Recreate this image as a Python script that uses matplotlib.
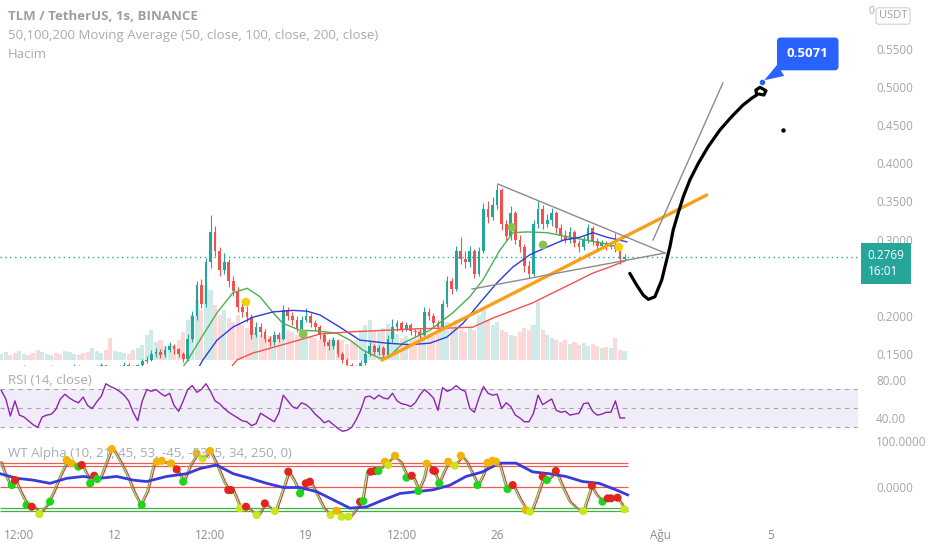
import numpy as np
import pandas as pd
import matplotlib
matplotlib.use("Agg")
import matplotlib.pyplot as plt
import matplotlib.transforms as mtransforms

plt.rcParams['font.family'] = ['Open Sans', 'DejaVu Sans']

# ---- data ----
# 4h candles, x in days since 12 Jul
bar_times = pd.date_range('2021-07-07 20:00', periods=138, freq='4h')
closes = [0.128, 0.131, 0.127, 0.125, 0.129, 0.132, 0.130, 0.126, 0.124, 0.127,
          0.130, 0.133, 0.129, 0.126, 0.128, 0.131, 0.134, 0.130, 0.127, 0.125,
          0.128, 0.132, 0.135, 0.131, 0.128, 0.130, 0.133, 0.136, 0.134, 0.131, 0.135,
          0.140, 0.142, 0.150, 0.152, 0.148, 0.155, 0.160, 0.156, 0.150, 0.143,
          0.170, 0.200, 0.240, 0.215, 0.270, 0.310, 0.285, 0.260, 0.270, 0.245,
          0.232, 0.212, 0.205, 0.198, 0.175, 0.185, 0.178, 0.170, 0.165, 0.175,
          0.170, 0.208, 0.200, 0.195, 0.183, 0.195, 0.200, 0.190, 0.185, 0.175,
          0.165, 0.160, 0.168, 0.150, 0.142, 0.135, 0.132, 0.130, 0.138, 0.150,
          0.160, 0.152, 0.158, 0.148, 0.170, 0.185, 0.190, 0.183, 0.188, 0.180,
          0.178, 0.175, 0.205, 0.200, 0.190, 0.185, 0.215, 0.245, 0.235, 0.285,
          0.275, 0.270, 0.285, 0.255, 0.285, 0.340, 0.330, 0.345, 0.365, 0.320,
          0.305, 0.335, 0.300, 0.290, 0.265, 0.255, 0.320, 0.340, 0.320, 0.325,
          0.335, 0.315, 0.305, 0.300, 0.310, 0.295, 0.290, 0.300, 0.315, 0.298,
          0.292, 0.295, 0.290, 0.293, 0.288, 0.275, 0.2769]
highs = [0.133, 0.134, 0.132, 0.129, 0.132, 0.135, 0.134, 0.131, 0.128, 0.130,
         0.133, 0.136, 0.134, 0.130, 0.131, 0.134, 0.137, 0.135, 0.131, 0.128,
         0.131, 0.135, 0.138, 0.136, 0.132, 0.133, 0.136, 0.139, 0.138, 0.135, 0.137,
         0.143, 0.147, 0.155, 0.158, 0.156, 0.160, 0.166, 0.163, 0.158, 0.152,
         0.176, 0.206, 0.246, 0.248, 0.276, 0.332, 0.318, 0.290, 0.282, 0.275,
         0.252, 0.238, 0.222, 0.213, 0.202, 0.192, 0.190, 0.182, 0.174, 0.180,
         0.179, 0.214, 0.212, 0.205, 0.199, 0.200, 0.210, 0.204, 0.194, 0.188,
         0.178, 0.170, 0.172, 0.170, 0.153, 0.145, 0.138, 0.135, 0.142, 0.155,
         0.165, 0.163, 0.162, 0.160, 0.175, 0.196, 0.195, 0.193, 0.192, 0.191,
         0.184, 0.182, 0.211, 0.210, 0.203, 0.194, 0.220, 0.252, 0.250, 0.292,
         0.303, 0.285, 0.292, 0.288, 0.290, 0.348, 0.350, 0.356, 0.373, 0.368,
         0.326, 0.344, 0.338, 0.306, 0.294, 0.272, 0.326, 0.350, 0.345, 0.334,
         0.342, 0.338, 0.320, 0.312, 0.316, 0.313, 0.300, 0.305, 0.320, 0.318,
         0.302, 0.299, 0.298, 0.297, 0.308, 0.291, 0.281]
lows = [0.125, 0.126, 0.125, 0.122, 0.123, 0.127, 0.128, 0.124, 0.121, 0.122,
        0.125, 0.128, 0.127, 0.123, 0.124, 0.126, 0.129, 0.128, 0.124, 0.122,
        0.123, 0.126, 0.130, 0.129, 0.126, 0.126, 0.128, 0.131, 0.131, 0.129, 0.129,
        0.133, 0.138, 0.140, 0.146, 0.144, 0.146, 0.152, 0.150, 0.146, 0.139,
        0.141, 0.166, 0.195, 0.210, 0.212, 0.262, 0.278, 0.252, 0.255, 0.238,
        0.226, 0.205, 0.198, 0.192, 0.170, 0.172, 0.172, 0.165, 0.160, 0.162,
        0.166, 0.168, 0.194, 0.188, 0.178, 0.180, 0.192, 0.185, 0.180, 0.170,
        0.160, 0.155, 0.156, 0.146, 0.138, 0.131, 0.128, 0.126, 0.128, 0.136,
        0.147, 0.148, 0.149, 0.144, 0.146, 0.166, 0.180, 0.178, 0.180, 0.175,
        0.172, 0.170, 0.173, 0.194, 0.185, 0.180, 0.183, 0.212, 0.228, 0.232,
        0.268, 0.262, 0.264, 0.250, 0.252, 0.282, 0.322, 0.325, 0.340, 0.312,
        0.298, 0.300, 0.294, 0.284, 0.258, 0.249, 0.252, 0.315, 0.314, 0.316,
        0.318, 0.308, 0.298, 0.295, 0.296, 0.290, 0.284, 0.286, 0.296, 0.293,
        0.287, 0.288, 0.286, 0.287, 0.284, 0.268, 0.272]
volumes = [6, 8, 5, 7, 9, 6, 5, 7, 10, 8, 6, 5, 7, 6, 9, 8, 6, 5, 7, 8,
           12, 9, 7, 10, 22, 9, 8, 7, 6, 10, 12,
           15, 25, 30, 18, 20, 14, 16, 15, 20, 28, 40, 45, 60, 50, 75, 70, 55, 45, 50,
           42, 38, 45, 35, 32, 30, 28, 25, 22, 24, 20, 26, 40, 30, 28, 25, 27, 30, 24, 22,
           20, 25, 20, 22, 18, 20, 16, 18, 20, 30, 35, 40, 30, 28, 32, 36, 30, 26, 22, 24,
           20, 22, 30, 28, 26, 24, 30, 35, 38, 32, 40, 30, 28, 32, 30, 45, 50, 40, 35, 38,
           30, 28, 25, 24, 28, 32, 30, 35, 58, 30, 25, 22, 20, 18, 20, 16, 18, 15, 17, 14,
           16, 14, 12, 13, 12, 22, 10, 9]
rsi = [69, 60, 42, 58, 43, 41, 37, 33, 30, 41, 43, 44, 49, 60, 65, 61, 58, 56, 62, 53,
       50, 57, 63, 76, 73, 71, 68, 64, 58, 46, 37, 58, 70, 68, 70, 66, 63, 66, 53, 47,
       58, 70, 74, 67, 70, 76, 68, 58, 55, 50, 46, 43, 40, 37, 36, 32, 34, 45, 42, 39,
       36, 45, 64, 58, 52, 50, 56, 54, 50, 44, 40, 35, 37, 33, 29, 26, 27, 30, 38, 48,
       62, 63, 60, 64, 61, 60, 66, 58, 55, 54, 52, 56, 64, 70, 66, 61, 48, 72, 68, 70,
       74, 70, 68, 50, 46, 61, 73, 66, 64, 65, 50, 56, 52, 43, 40, 36, 36, 45, 64, 54,
       57, 60, 48, 46, 47, 43, 44, 45, 55, 56, 47, 43, 44, 46, 46, 58, 40, 40]

# moving averages (days, price)
ma50_days = [2.40, 2.67, 3.11, 3.74, 4.32, 4.84, 5.31, 5.79, 6.15, 6.78, 7.40, 8.13, 8.61, 9.08,
             9.71, 10.07, 10.55, 11.54, 12.38, 13.00, 13.48, 14.10, 14.58, 15.09, 15.82,
             16.67, 17.29, 17.88, 18.50]
ma50 = [0.128, 0.142, 0.168, 0.204, 0.230, 0.236, 0.225, 0.204, 0.190, 0.181, 0.180, 0.177,
        0.168, 0.155, 0.144, 0.147, 0.164, 0.181, 0.204, 0.225, 0.247, 0.286, 0.309, 0.310,
        0.309, 0.303, 0.299, 0.295, 0.290]
ma100_days = [3.00, 3.22, 3.74, 4.32, 5.05, 5.79, 6.52, 7.03, 7.51, 8.24, 8.97, 9.96, 10.81,
              11.54, 12.16, 12.75, 13.37, 13.99, 14.58, 15.20, 15.82, 16.41, 17.03, 17.51,
              18.02, 18.50, 18.75]
ma100 = [0.128, 0.142, 0.168, 0.185, 0.198, 0.205, 0.207, 0.206, 0.201, 0.185, 0.168, 0.164,
         0.162, 0.164, 0.172, 0.190, 0.217, 0.243, 0.264, 0.280, 0.290, 0.299, 0.303, 0.309,
         0.303, 0.299, 0.297]
ma200_days = [4.20, 4.47, 5.05, 6.15, 7.51, 8.72, 9.96, 11.17, 12.38, 13.11, 13.85, 14.58,
              15.31, 16.04, 16.78, 17.51, 18.13, 18.75]
ma200 = [0.130, 0.142, 0.151, 0.162, 0.176, 0.179, 0.181, 0.183, 0.184, 0.185, 0.197, 0.207,
         0.217, 0.230, 0.243, 0.256, 0.264, 0.273]
cross_days = [4.80, 6.89, 14.54, 15.68, 18.46]
cross_prices = [0.218, 0.176, 0.316, 0.293, 0.290]
cross_colors = ['#f5d300', '#8bc34a', '#8bc34a', '#8bc34a', '#f5d300']

# user drawings
orange_days = [9.78, 21.68]
orange_prices = [0.1419, 0.3584]
tri_days = [14.03, 20.15, 13.08]
tri_prices = [0.3728, 0.2823, 0.2350]
gray_days = [19.71, 22.27]
gray_prices = [0.2993, 0.5054]
sketch_days = [18.86, 19.11, 19.35, 19.54, 19.78, 20.03, 20.21, 20.33, 20.45, 20.63, 20.82,
               21.06, 21.37, 21.73, 22.16, 22.59, 23.01, 23.32, 23.51, 23.48, 23.63, 23.85,
               23.77, 23.60]
sketch_prices = [0.2556, 0.2403, 0.2272, 0.2215, 0.2249, 0.2468, 0.2731, 0.2906, 0.3125,
                 0.3344, 0.3562, 0.3781, 0.4000, 0.4218, 0.4437, 0.4612, 0.4765, 0.4853,
                 0.4896, 0.4962, 0.4997, 0.4953, 0.4896, 0.4909]
dot_day, dot_price = 24.47, 0.4437
target_day, target_price = 23.70, 0.5071

# WT Alpha
wt_days = [-4.21, -4.03, -3.85, -3.66, -3.48, -3.23, -2.99, -2.75, -2.50, -2.26, -2.01, -1.77,
           -1.59, -1.40, -1.22, -1.04, -0.91, -0.73, -0.55, -0.37, -0.18, -0.06, 0.18, 0.43,
           0.67, 0.92, 1.16, 1.40, 1.65, 1.89, 2.08, 2.26, 2.50, 2.75, 2.99, 3.24, 3.48, 3.72,
           3.97, 4.15, 4.33, 4.58, 4.82, 5.07, 5.25, 5.49, 5.68, 5.86, 6.11, 6.35, 6.53, 6.78,
           6.96, 7.14, 7.39, 7.63, 7.88, 8.12, 8.36, 8.61, 8.85, 9.04, 9.22, 9.46, 9.71, 9.95,
           10.20, 10.44, 10.69, 10.93, 11.11, 11.30, 11.42, 11.66, 11.85, 12.03, 12.21, 12.45,
           12.70, 12.86, 13.10, 13.28, 13.47, 13.65, 13.89, 14.08, 14.32, 14.57, 14.81, 15.06,
           15.24, 15.42, 15.67, 15.85, 16.15, 16.40, 16.64, 16.89, 17.13, 17.44, 17.62, 17.86,
           18.11, 18.41, 18.66]
wt_vals = [55, 26, 4, 15, -10, -39, -43, -57, -39, -10, 26, 55, 52, 48, 48, 26, 8, 23, 19, 48,
           77, 80, 55, 26, -10, -39, -10, 48, 55, 55, 48, 37, 12, 48, 70, 62, 77, 48, 12, -6,
           -10, -46, -43, -57, -61, -36, -46, -54, -10, 33, 15, -14, 4, 12, -17, -46, -61, -50,
           -65, -65, -46, -32, 33, 37, 40, 52, 66, 55, 23, 19, -6, 19, 52, 37, 8, 33, 55, 48,
           66, 55, 26, 4, 26, 55, 59, 48, -2, 4, -25, -50, -54, -25, 19, 15, 33, -2, -32, -46,
           -54, 1, -17, -32, -25, -25, -48]
wt_slow_days = [-4.21, -3.60, -2.99, -2.38, -1.77, -1.16, -0.55, 0.06, 0.67, 1.16, 1.89, 2.63,
                3.11, 3.72, 4.33, 4.95, 5.56, 6.17, 6.78, 7.39, 8.00, 8.61, 9.22, 9.83, 10.44,
                11.05, 11.66, 12.27, 12.86, 13.47, 14.08, 14.69, 15.30, 15.91, 16.52, 17.13,
                17.74, 18.35, 18.78]
wt_slow = [29, 19, 15, 8, 19, 23, 19, 23, 15, 12, 23, 29, 40, 48, 29, 19, 8, -1, -1, -10, -28,
           -46, -43, -28, -14, -10, -6, 4, 23, 33, 52, 52, 33, 29, 23, 12, 8, -6, -17]
wt_levels_red = [53, 45, 0]
wt_levels_green = [-45, -53]
wt_dot_days = [-3.78, -3.66, -3.24, -3.05, -2.77, -2.38, -1.77, -1.59, -1.34, -1.22, -0.91,
               -0.76, -0.65, -0.12, 0.98, 1.53, 1.71, 2.05, 2.26, 2.50, 2.99, 3.21, 3.48,
               4.15, 4.25, 4.58, 4.80, 5.19, 5.49, 5.86, 6.35, 6.78, 6.99, 7.14, 7.90, 8.12,
               8.30, 8.55, 8.98, 9.10, 9.37, 9.52, 9.65, 9.89, 10.01, 10.26, 10.68, 10.87,
               11.11, 11.42, 11.66, 11.72, 11.88, 12.21, 12.45, 12.67, 13.28, 13.65, 13.83,
               13.96, 14.38, 14.57, 15.05, 15.20, 15.67, 15.82, 16.15, 17.15, 17.47, 17.86,
               18.05, 18.17, 18.41, 18.66]
wt_dot_vals = [4.3, 15.2, -39.1, -42.8, -58.7, -31.9, 58.7, 51.5, 44.2, 47.8, 8.0, 24.6, 17.4,
               82.6, -39.1, 55.1, 57.2, 51.5, 38.4, 11.6, 73.2, 62.3, 78.3, -6.5, -6.5, -46.4,
               -42.8, -60.9, -35.5, -52.2, 33.3, -13.8, 8.0, 11.6, -60.9, -51.5, -64.5, -64.5,
               -31.9, -30.4, 33.3, 34.8, 34.8, 55.1, 47.8, 68.1, 20.3, 24.6, -8.7, 50.7, 36.2,
               34.8, 8.0, 55.1, 46.4, 68.1, 4.3, 52.9, 57.2, 55.1, -4.4, 4.3, -50.0, -53.6,
               22.5, 15.2, 34.8, -52.2, 2.9, -31.9, -24.6, -24.6, -23.2, -48.5]
wt_dot_kind = ['g', 'r', 'g', 'r', 'y', 'g', 'o', 'o', 'g', 'r', 'g', 'r', 'g', 'o', 'g', 'o',
               'o', 'o', 'r', 'g', 'o', 'y', 'o', 'r', 'r', 'y', 'r', 'y', 'r', 'y', 'r', 'g',
               'r', 'r', 'y', 'o', 'y', 'y', 'r', 'g', 'r', 'r', 'g', 'o', 'y', 'o', 'g', 'r',
               'g', 'o', 'r', 'r', 'g', 'o', 'y', 'o', 'g', 'o', 'o', 'o', 'g', 'r', 'o', 'y',
               'r', 'g', 'r', 'y', 'r', 'g', 'r', 'r', 'r', 'y']

price_ticks = [0.15, 0.20, 0.30, 0.35, 0.40, 0.45, 0.50, 0.55]
tick_days = [-3.5, 0, 3.5, 7, 10.5, 14, 20, 24]
tick_labels = ['12:00', '12', '12:00', '19', '12:00', '26', 'Ağu', '5']

# ---- drawing ----
UP, DOWN = '#26a69a', '#ef5350'
GREY = '#a3a6ad'
dot_colors = {'g': '#1ed41e', 'r': '#e0251b', 'y': '#c8e61a', 'o': '#f2b400'}

t = ((bar_times - pd.Timestamp('2021-07-12')) / pd.Timedelta(days=1)).to_numpy()
closes = np.array(closes)
opens = np.concatenate([[0.126], closes[:-1]])
up = closes >= opens
colors = np.where(up, UP, DOWN)
last = closes[-1]
xlim = (-4.212, 27.22)

fig = plt.figure(figsize=(9.32, 5.5), dpi=100)
ax = fig.add_axes([0, 0.3345, 0.9206, 0.6655])
ax_rsi = fig.add_axes([0, 0.2073, 0.9206, 0.1273])
ax_wt = fig.add_axes([0, 0.0527, 0.9206, 0.1545])

# volume behind price
ax_vol = ax.twinx()
ax_vol.bar(t, volumes, width=0.15, color=colors, alpha=0.22, linewidth=0)
ax_vol.set_ylim(-6, 360)
ax_vol.axis('off')
ax.set_zorder(ax_vol.get_zorder() + 1)
ax.patch.set_visible(False)

ax.vlines(t, lows, highs, colors=colors, linewidth=0.8)
ax.bar(t, np.abs(closes - opens), bottom=np.minimum(opens, closes), width=0.1,
       color=colors, linewidth=0)

ax.plot(ma50_days, ma50, color='#4caf50', lw=1)
ax.plot(ma100_days, ma100, color='#2e3be0', lw=1)
ax.plot(ma200_days, ma200, color='#f05350', lw=1)
ax.scatter(cross_days, cross_prices, s=38, c=cross_colors, zorder=5, linewidths=0)

ax.axhline(last, color=UP, lw=1, ls=(0, (1, 2.5)))

ax.plot(orange_days, orange_prices, color='#f7a01b', lw=2.4, solid_capstyle='round')
ax.plot(tri_days[:2], tri_prices[:2], color='#8c8c8c', lw=1)
ax.plot(tri_days[1:], tri_prices[1:], color='#8c8c8c', lw=1)
ax.plot(gray_days, gray_prices, color='#8c8c8c', lw=1)
ax.plot(sketch_days, sketch_prices, color='black', lw=2.3,
        solid_capstyle='round', solid_joinstyle='round')
ax.plot(dot_day, dot_price, 'o', color='black', ms=2.2)

ax.plot(target_day, target_price, 'o', color='#2962ff', ms=3)
ax.annotate(f'{target_price:.4f}', xy=(target_day, target_price), xytext=(33, 20),
            textcoords='offset points', ha='center', va='center', color='white',
            fontsize=9.5, fontweight='bold',
            bbox=dict(boxstyle='round,pad=0.75,rounding_size=0.3', fc='#2962ff', ec='none'),
            arrowprops=dict(arrowstyle='wedge,tail_width=1.0,shrink_factor=0.5',
                            fc='#2962ff', ec='none', shrinkA=0, shrinkB=2))

ax.set_xlim(*xlim)
ax.set_ylim(0.134, 0.6143)
ax.yaxis.tick_right()
ax.set_yticks(price_ticks)
ax.yaxis.set_major_formatter(matplotlib.ticker.FormatStrFormatter('%.4f'))
ax.tick_params(axis='y', length=0, pad=13, labelcolor=GREY, labelsize=8.5)
ax.set_xticks([])

blend = mtransforms.blended_transform_factory(ax.transAxes, ax.transData)
ax.annotate(f'{last:.4f}\n16:01', xy=(1.0, last), xycoords=blend, xytext=(7, 5.5),
            textcoords='offset points', ha='left', va='top', color='white',
            fontsize=8.5, linespacing=1.25, annotation_clip=False,
            bbox=dict(boxstyle='square,pad=0.55', fc=UP, ec='none'))

# RSI
ax_rsi.axhspan(30, 70, color='#7e57c2', alpha=0.1, lw=0)
for lvl in (70, 50, 30):
    ax_rsi.axhline(lvl, color='#a6a6b0', lw=0.8, ls=(0, (4, 4)))
ax_rsi.plot(t, rsi, color='#8e24aa', lw=1)
ax_rsi.set_xlim(*xlim)
ax_rsi.set_ylim(21.05, 94.7)
ax_rsi.yaxis.tick_right()
ax_rsi.set_yticks([40, 80])
ax_rsi.yaxis.set_major_formatter(matplotlib.ticker.FormatStrFormatter('%.2f'))
ax_rsi.tick_params(axis='y', length=0, pad=13, labelcolor=GREY, labelsize=8.5)
ax_rsi.set_xticks([])

# WT Alpha
wt_end = t[-1] + 0.12
ax_wt.hlines(wt_levels_red, xlim[0], wt_end, colors='#f05a50', lw=0.9)
ax_wt.hlines(wt_levels_green, xlim[0], wt_end, colors='#43b043', lw=0.9)
ax_wt.plot(np.array(wt_days) + 0.07, wt_vals, color='#e53935', lw=0.9)
ax_wt.plot(wt_days, wt_vals, color='#66bb44', lw=0.9)
ax_wt.plot(wt_slow_days, wt_slow, color='#3a3ad8', lw=2)
ax_wt.scatter(wt_dot_days, wt_dot_vals, s=34, c=[dot_colors[k] for k in wt_dot_kind],
              zorder=5, linewidths=0)
ax_wt.set_xlim(*xlim)
ax_wt.set_ylim(-73.9, 110.9)
ax_wt.yaxis.tick_right()
ax_wt.set_yticks([0, 100])
ax_wt.yaxis.set_major_formatter(matplotlib.ticker.FormatStrFormatter('%.4f'))
ax_wt.tick_params(axis='y', length=0, pad=13, labelcolor=GREY, labelsize=8.5)
ax_wt.set_xticks(tick_days)
ax_wt.set_xticklabels(tick_labels)
ax_wt.tick_params(axis='x', length=0, pad=6, labelcolor='#8a8d96', labelsize=8.5)

for a in (ax, ax_rsi, ax_wt):
    for s in a.spines.values():
        s.set_visible(False)

# legend texts
fig.text(8 / 932, 1 - 17 / 550, 'TLM / TetherUS, 1s, BINANCE', fontsize=9.5,
         fontweight='bold', color='#9b9ea6', va='center')
fig.text(8 / 932, 1 - 36 / 550,
         '50,100,200 Moving Average (50, close, 100, close, 200, close)',
         fontsize=9.5, color='#a8abb2', va='center')
fig.text(8 / 932, 1 - 55 / 550, 'Hacim', fontsize=9.5, color='#a8abb2', va='center')
fig.text(8 / 932, 1 - 380 / 550, 'RSI (14, close)', fontsize=9.5, color='#a8abb2',
         va='center')
fig.text(8 / 932, 1 - 454 / 550, 'WT Alpha (10, 21, 45, 53, -45, -53, 5, 34, 250, 0)',
         fontsize=9.5, color='#a8abb2', va='center', zorder=0)
fig.text(893 / 932, 1 - 16 / 550, 'USDT', fontsize=8, color='#9b9ea6', ha='center',
         va='center', bbox=dict(boxstyle='round,pad=0.25', fc='white', ec='#d6d8dd'))
fig.text(871 / 932, 1 - 11 / 550, '0', fontsize=7.5, color=GREY, ha='center', va='center')

fig.savefig('out.png', dpi=100)
